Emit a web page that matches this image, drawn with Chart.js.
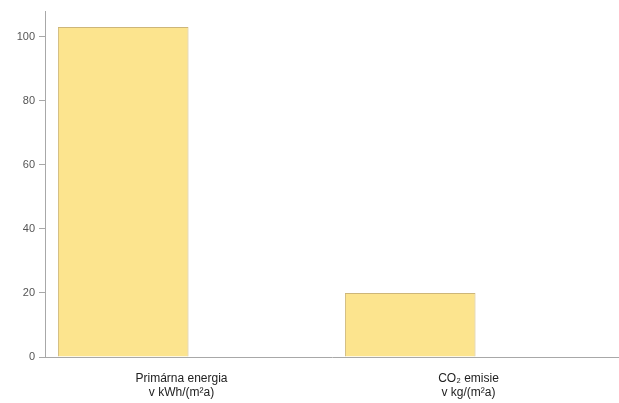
<!DOCTYPE html>
<html>
<head>
<meta charset="utf-8">
<script src="https://cdn.jsdelivr.net/npm/chart.js@4/dist/chart.umd.min.js"></script>
<style>
  html, body { margin: 0; padding: 0; background: #fff; }
  #wrap { width: 619px; height: 403px; }
</style>
</head>
<body>
<div id="wrap"><canvas id="chart"></canvas></div>
<script>
// data
const categories = [
  ['Primárna energia', 'v kWh/(m²a)'],
  ['CO₂ emisie', 'v kg/(m²a)']
];
const values = [103, 20];
// second series slot is empty in the source, it only reserves space in each group
const emptySeries = [null, null];
const yTicks = [0, 20, 40, 60, 80, 100];

const ctx = document.getElementById('chart');

new Chart(ctx, {
  type: 'bar',
  data: {
    labels: categories,
    datasets: [{
      data: values,
      backgroundColor: '#FCE48E',
      borderColor: '#CDB679',
      borderWidth: 1,
      categoryPercentage: 0.91,
      barPercentage: 1.0
    }, {
      data: emptySeries,
      backgroundColor: 'transparent',
      categoryPercentage: 0.91,
      barPercentage: 1.0
    }]
  },
  options: {
    responsive: true,
    maintainAspectRatio: false,
    animation: false,
    layout: { padding: { top: 11, right: 0, left: 0, bottom: 0 } },
    plugins: {
      legend: { display: false },
      tooltip: { enabled: false }
    },
    scales: {
      x: {
        grid: { display: false },
        border: { display: true, color: '#a8a8a8', width: 1 },
        ticks: {
          color: '#222',
          font: { family: 'Liberation Sans', size: 12 },
          maxRotation: 0,
          autoSkip: false,
          labelOffset: -7,
          padding: 6
        },
        afterFit: function (scale) { scale.height = 46; }
      },
      y: {
        min: 0,
        max: 108,
        grid: { drawOnChartArea: false, color: '#a8a8a8', tickLength: 6 },
        border: { display: true, color: '#a8a8a8', width: 1 },
        ticks: {
          color: '#555',
          font: { family: 'Liberation Sans', size: 11 },
          padding: 4
        },
        afterBuildTicks: function (scale) {
          scale.ticks = yTicks.map(v => ({ value: v }));
        },
        afterFit: function (scale) { scale.width = 45; }
      }
    }
  }
});
</script>
</body>
</html>
